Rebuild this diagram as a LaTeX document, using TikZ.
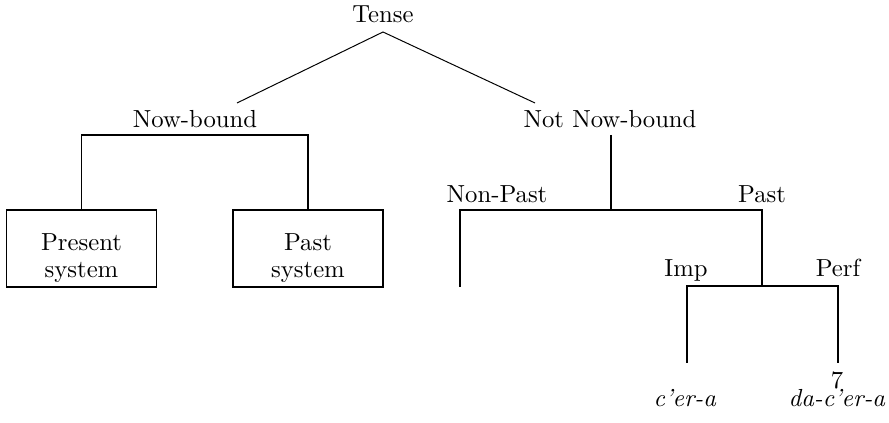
\documentclass[tikz,border=0pt]{standalone}
\begin{document}
\begin{tikzpicture}[x=0.405pt,y=-0.405pt,
  lbl/.style={anchor=base,inner sep=0pt},
  stack/.style={align=center,inner sep=0pt},
  sysbox/.style={draw,line width=0.8pt,minimum width=150*0.405pt,minimum height=77*0.405pt,inner sep=0pt},
  thin/.style={line width=0.4pt},
  bar/.style={line width=0.8pt}]
\useasboundingbox (0,0) rectangle (889,423);

% labels
\node[anchor=base] (tense) at (383,23) {Tense};
\node[lbl] (nb) at (195,128) {Now-bound};
\node[lbl] (nnb) at (610,128) {Not Now-bound};
\node[lbl] (nonpast) at (497,203) {Non-Past};
\node[lbl] (past) at (762,203) {Past};
\node[lbl] (imp) at (686,277) {Imp};
\node[lbl] (perf) at (838,277) {Perf};
\node[lbl] (cera) at (685,407) {\textit{c’er-a}};
\node[stack,anchor=south] (dacera) at (837,407) {7\\[-4.9pt]\textit{da-c’er-a}};

% boxes and their texts
\node[sysbox] (pres) at (81.5,248.5) {};
\node[sysbox] (pastsys) at (308,248.5) {};
\node[stack,anchor=north] (presl) at (81.5,233.1) {Present\\[-1.1pt]system};
\node[stack,anchor=north] (pastl) at (308,233.1) {Past\\[-1.1pt]system};

% join points
\coordinate (nbend) at (237,103);
\coordinate (nnbend) at (535,103);
\coordinate (nbjoin) at (195,135);
\coordinate (nnbfoot) at (611,135);
\coordinate (npjoin) at (611,210);
\coordinate (npend) at (460,287);
\coordinate (ipjoin) at (762,286);
\coordinate (impend) at (687,363);
\coordinate (perfend) at (838,363);

% branches
\draw[thin] (nbend) -- (tense.south) -- (nnbend);
\draw[bar] (pres.north) |- (nbjoin) -| (pastsys.north);
\draw[bar] (nnbfoot) -- (npjoin);
\draw[bar] (npend) |- (npjoin) -| (ipjoin);
\draw[bar] (impend) |- (ipjoin) -| (perfend);
\end{tikzpicture}
\end{document}
